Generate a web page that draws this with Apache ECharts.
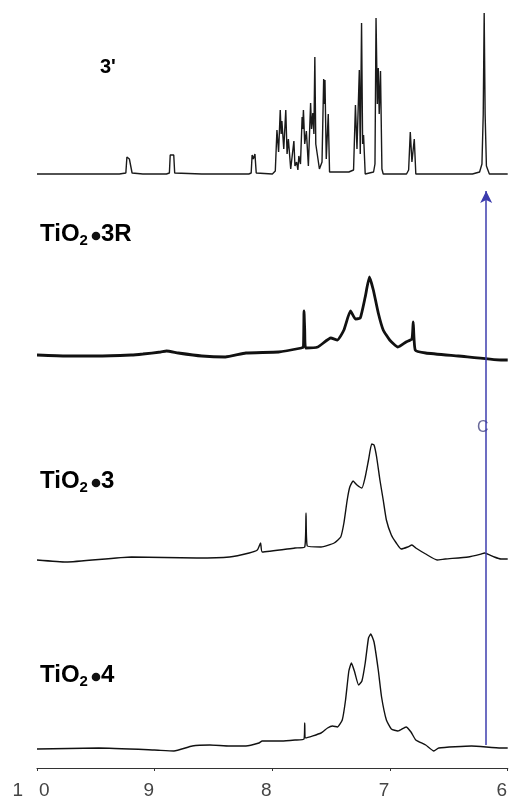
<!DOCTYPE html>
<html>
<head>
<meta charset="utf-8">
<script src="https://cdn.jsdelivr.net/npm/echarts@6/dist/echarts.min.js"></script>
<style>
html,body{margin:0;padding:0;background:#fff;}
#chart{width:510px;height:802px;}
</style>
</head>
<body>
<div id="chart"></div>
<script>
// x-axis ticks (ppm)
const tickValues = [10, 9, 8, 7, 6];
const tickLabels = {10: '1   0', 9: '9', 8: '8', 7: '7', 6: '6'};

// trace labels
const traceNames = ["3'", 'TiO2•3R', 'TiO2•3', 'TiO2•4'];

// Spectrum 3' : [ppm, intensity]
const spec3p = [
  [10,0],[9.30,0],[9.245,1],[9.236,17],[9.215,15],[9.200,17],[9.192,1],[9.10,0],
  [8.90,0],[8.875,1],[8.868,19],[8.852,17],[8.838,19],[8.830,1],[8.60,0],
  [8.20,0],[8.18,1],[8.172,19],[8.162,15],[8.148,20],[8.137,1],[8.00,0],
  [7.975,3],[7.961,44],[7.947,22],[7.933,64],[7.925,40],[7.919,53],[7.903,25],
  [7.886,64],[7.875,20],[7.864,35],[7.844,5],[7.817,33],[7.808,8],[7.794,12],
  [7.783,4],[7.775,18],[7.761,10],[7.747,57],[7.742,45],[7.736,64],[7.725,30],
  [7.711,43],[7.694,8],[7.675,71],[7.667,45],[7.656,61],[7.647,40],[7.639,117],
  [7.631,30],[7.622,31],[7.600,5],[7.578,12],[7.564,95],[7.558,70],[7.553,94],
  [7.542,15],[7.525,60],[7.514,2],[7.45,2],[7.35,2],[7.31,4],
  [7.294,69],[7.281,25],[7.261,104],[7.253,20],[7.242,151],[7.233,30],[7.225,39],
  [7.211,0],[7.14,2],[7.128,10],[7.119,156],[7.108,70],[7.100,106],[7.092,60],
  [7.081,103],[7.069,5],[7.058,0],[6.86,0],[6.842,4],[6.828,42],[6.814,12],
  [6.794,35],[6.781,0],[6.30,0],[6.239,2],[6.219,10],[6.208,60],[6.200,161],
  [6.192,60],[6.181,8],[6.156,0],[6.0,0]
];

// TiO2•3R
const specTiO2_3R = [
  [10,0],[9.75,-1],[9.5,-1],[9.2,0],[9.1,1],[8.95,3],[8.9,4],[8.8,2],[8.6,-1],
  [8.4,-2],[8.225,2],[7.947,3],[7.753,7],[7.736,8],[7.731,44],[7.725,25],[7.717,7],
  [7.614,8],[7.503,17],[7.447,15],[7.392,25],[7.336,44],[7.294,36],[7.253,37],
  [7.211,58],[7.175,78],[7.142,65],[7.100,42],[7.058,25],[7.003,15],[6.933,8],
  [6.864,13],[6.814,16],[6.803,33],[6.786,5],[6.697,2],[6.419,-1],[6.058,-5],[6.0,-5]
];

// TiO2•3
const specTiO2_3 = [
  [10,0],[9.753,-2],[9.197,3],[8.642,2],[8.364,3],[8.197,7],[8.128,10],[8.1,17],
  [8.086,8],[7.808,12],[7.725,13],[7.714,47],[7.703,14],[7.586,13],[7.475,17],
  [7.419,23],[7.392,37],[7.364,60],[7.342,73],[7.314,79],[7.281,75],[7.239,72],
  [7.211,83],[7.183,100],[7.156,116],[7.136,115],[7.114,103],[7.086,80],[7.058,60],
  [7.031,40],[6.989,25],[6.947,17],[6.906,11],[6.850,13],[6.814,15],[6.781,12],
  [6.697,6],[6.6,0],[6.531,1],[6.336,3],[6.225,6],[6.197,7],[6.114,3],[6.058,1],[6.0,1]
];

// TiO2•4
const specTiO2_4 = [
  [10,0],[9.475,1],[9.003,-1],[8.836,-2],[8.681,3],[8.531,4],[8.364,3],[8.225,3],
  [8.114,6],[8.086,8],[7.919,8],[7.808,9],[7.731,10],[7.725,26],[7.717,11],
  [7.586,16],[7.531,21],[7.489,23],[7.447,22],[7.406,29],[7.378,49],[7.35,78],
  [7.328,86],[7.303,78],[7.267,64],[7.239,68],[7.211,86],[7.183,111],[7.164,115],
  [7.136,107],[7.1,79],[7.072,52],[7.031,29],[6.989,20],[6.933,18],[6.864,22],
  [6.822,17],[6.781,9],[6.697,4],[6.628,-2],[6.586,1],[6.308,3],[6.058,1],[6.0,1]
];

// vertical offsets of each trace (stacking layout)
const offsets = {s3p: 594, s3R: 413, s3: 208, s4: 19};
const arrowPpm = 6.183;
const arrowRange = [23, 577];

const shift = (arr, off) => arr.map(p => [p[0], p[1] + off]);

const chart = echarts.init(document.getElementById('chart'), null, {renderer: 'canvas'});

const lineSeries = (name, data, width, color, smooth) => ({
  name: name, type: 'line', data: data, showSymbol: false, symbol: 'none',
  lineStyle: {color: color, width: width}, animation: false, silent: true,
  smooth: smooth, z: 3
});

const F = '"Liberation Sans", Arial, sans-serif';
const labelRich = {
  m: {fontFamily: F, fontSize: 24, fontWeight: 'bold', color: '#111', lineHeight: 28},
  s: {fontFamily: F, fontSize: 15, fontWeight: 'bold', color: '#111', lineHeight: 28, padding: [12, 0, 0, 0]},
  g: {fontFamily: F, fontSize: 24, width: 13, lineHeight: 28}
};

// name 'TiO2•X' -> rich text with subscript and a drawn bullet
function tioLabel(name, top) {
  const suffix = name.split('•')[1];
  return {
    type: 'group', left: 40, top: top,
    children: [
      {type: 'text', x: 0, y: 0, style: {text: '{m|TiO}{s|2}{g| }{m|' + suffix + '}', rich: labelRich}},
      {type: 'circle', shape: {cx: 56, cy: 15.5, r: 4.3}, style: {fill: '#111'}}
    ]
  };
}

const option = {
  backgroundColor: '#fff',
  animation: false,
  grid: {left: 37, right: -7, top: 0, bottom: 34},
  xAxis: {
    type: 'value', inverse: true, min: 6, max: 10, interval: 1,
    axisLine: {show: true, lineStyle: {color: '#333', width: 1.2}},
    axisTick: {show: true, length: 3, lineStyle: {color: '#333'}},
    splitLine: {show: false},
    axisLabel: {
      fontFamily: F, fontSize: 19, color: '#444', margin: 13,
      padding: [0, 12, 0, 0],
      formatter: v => tickLabels[v] !== undefined ? tickLabels[v] : ''
    }
  },
  yAxis: {type: 'value', min: 0, max: 768, show: false},
  series: [
    lineSeries(traceNames[0], shift(spec3p, offsets.s3p), 1.4, '#1a1a1a', false),
    lineSeries(traceNames[1], shift(specTiO2_3R, offsets.s3R), 2.8, '#111', 0.15),
    lineSeries(traceNames[2], shift(specTiO2_3, offsets.s3), 1.4, '#111', 0.15),
    Object.assign(lineSeries(traceNames[3], shift(specTiO2_4, offsets.s4), 1.4, '#111', 0.15), {
      markLine: {
        silent: true, animation: false,
        symbol: ['none', 'arrow'], symbolSize: [9, 12],
        label: {show: false},
        lineStyle: {color: '#3c3cae', width: 1.5, type: 'solid'},
        data: [[{coord: [arrowPpm, arrowRange[0]]}, {coord: [arrowPpm, arrowRange[1]]}]]
      }
    })
  ],
  graphic: [
    {type: 'text', left: 100, top: 57, style: {text: "{a|3}{b|'}", rich: {
      a: {fontFamily: F, fontSize: 20, fontWeight: 'bold', color: '#111'},
      b: {fontFamily: F, fontSize: 20, fontWeight: 'bold', color: '#666'}}}},
    tioLabel(traceNames[1], 221),
    tioLabel(traceNames[2], 468),
    tioLabel(traceNames[3], 662),
    {type: 'text', left: 477, top: 420, style: {text: 'C', font: '16px "Liberation Sans", Arial', fill: '#6a6a9a'}}
  ]
};
chart.setOption(option);
</script>
</body>
</html>
